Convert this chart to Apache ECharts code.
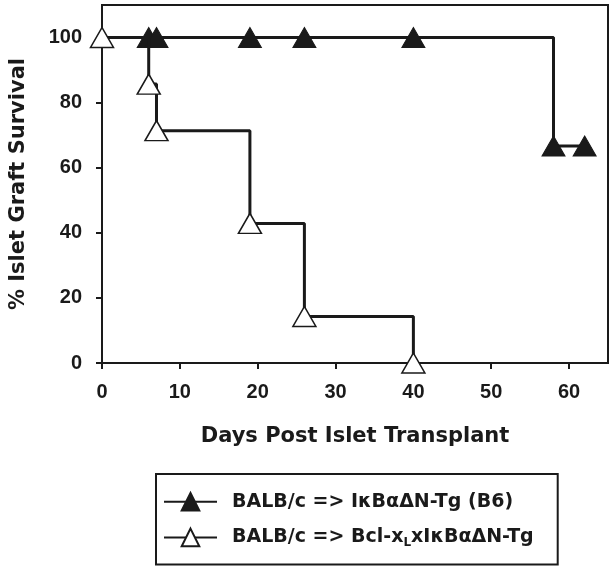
<!DOCTYPE html>
<html>
<head>
<meta charset="utf-8">
<script src="https://cdn.jsdelivr.net/npm/echarts@6/dist/echarts.min.js"></script>
<style>
  html, body { margin: 0; padding: 0; background: #fff; }
  #chart { width: 613px; height: 571px; }
</style>
</head>
<body>
<div id="chart"></div>
<script>
// days of each point
var wildDays = [0, 6, 7, 19, 26, 40, 58, 62];
var wildSurv = [100, 100, 100, 100, 100, 100, 66.7, 66.7];
var bclDays = [0, 6, 7, 19, 26, 40];
var bclSurv = [100, 85.7, 71.4, 42.9, 14.3, 0];

var xTicks = [0, 10, 20, 30, 40, 50, 60];
var yTicks = [0, 20, 40, 60, 80, 100];

var seriesNames = ['BALB/c => IκBαΔN-Tg (B6)', 'BALB/c => Bcl-xLxIκBαΔN-Tg'];

var ink = '#1a1a1a';
var font = 'Liberation Sans, Arial, sans-serif';
var wide = 'DejaVu Sans, sans-serif';

var chart = echarts.init(document.getElementById('chart'));

var wildData = wildDays.map(function (d, i) {
  var p = { value: [d, wildSurv[i]] };
  if (i === 0) p.symbol = 'none';
  return p;
});
var bclData = bclDays.map(function (d, i) { return [d, bclSurv[i]]; });

var option = {
  backgroundColor: '#fff',
  animation: false,
  grid: {
    left: 96, top: 5, right: 5, bottom: 208,
    show: true, borderColor: ink, borderWidth: 2, backgroundColor: 'transparent'
  },
  xAxis: {
    type: 'value', min: 0, max: 65,
    name: 'Days Post Islet Transplant',
    nameLocation: 'middle', nameGap: 63,
    nameTextStyle: { fontFamily: wide, fontWeight: 'bold', fontSize: 21, color: ink },
    axisLine: { show: true, lineStyle: { color: ink, width: 2 } },
    axisTick: { show: true, length: 6, customValues: xTicks, lineStyle: { color: ink, width: 2 } },
    axisLabel: { customValues: xTicks, margin: 19, fontFamily: font, fontWeight: 'bold', fontSize: 20, color: ink },
    splitLine: { show: false }
  },
  yAxis: {
    type: 'value', min: 0, max: 110,
    name: '% Islet Graft Survival',
    nameLocation: 'middle', nameGap: 73,
    nameTextStyle: { fontFamily: wide, fontWeight: 'bold', fontSize: 21, color: ink },
    axisLine: { show: true, lineStyle: { color: ink, width: 2 } },
    axisTick: { show: true, length: 6, customValues: yTicks, lineStyle: { color: ink, width: 2 } },
    axisLabel: { customValues: yTicks, margin: 20, fontFamily: font, fontWeight: 'bold', fontSize: 20, color: ink },
    splitLine: { show: false }
  },
  legend: {
    left: 156, top: 474,
    orient: 'vertical',
    itemWidth: 53, itemHeight: 22, itemGap: 16,
    padding: [18, 24, 16, 7],
    borderColor: ink, borderWidth: 2,
    data: seriesNames,
    formatter: function (n) {
      if (n === seriesNames[1]) return 'BALB/c => Bcl-x{sub|L}xIκBαΔN-Tg';
      return n;
    },
    textStyle: {
      fontFamily: wide, fontWeight: 'bold', fontSize: 19, color: ink,
      padding: [0, 0, 0, 10],
      rich: {
        sub: { fontFamily: wide, fontWeight: 'bold', fontSize: 12, color: ink, verticalAlign: 'bottom', padding: [10, 0, 0, 0] }
      }
    }
  },
  series: [
    {
      name: seriesNames[0],
      type: 'line', step: 'end', clip: false, z: 2,
      symbol: 'triangle', symbolSize: [23, 20],
      lineStyle: { color: ink, width: 3 },
      itemStyle: { color: ink, borderColor: ink, borderWidth: 1 },
      data: wildData
    },
    {
      name: seriesNames[1],
      type: 'line', step: 'end', clip: false, z: 3,
      symbol: 'triangle', symbolSize: [23, 20],
      lineStyle: { color: ink, width: 3 },
      itemStyle: { color: '#fff', borderColor: ink, borderWidth: 1.5 },
      data: bclData
    }
  ]
};

chart.setOption(option);
</script>
</body>
</html>
